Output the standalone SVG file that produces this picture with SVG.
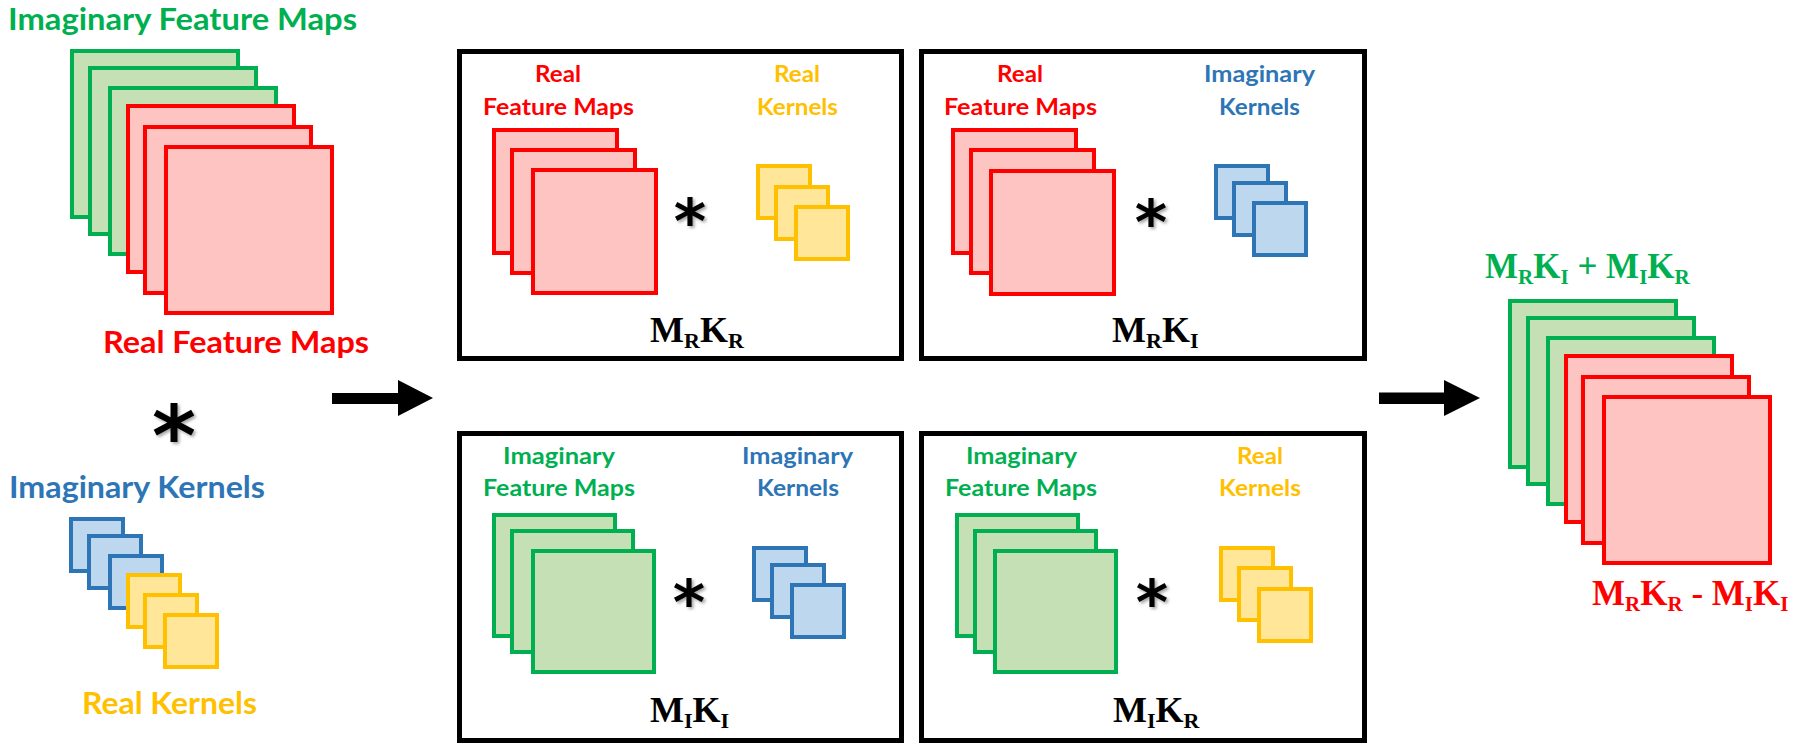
<svg xmlns="http://www.w3.org/2000/svg" width="1800" height="745" viewBox="0 0 1800 745">
<style>
.g{fill:#C5E0B4;stroke:#00B050;stroke-width:4}
.r{fill:#FDC4C2;stroke:#FF0000;stroke-width:4}
.b{fill:#BDD7EE;stroke:#2E75B6;stroke-width:4}
.y{fill:#FFE699;stroke:#FFC000;stroke-width:4}
.box{fill:#FFFFFF;stroke:#000000;stroke-width:5}
.lbl{font-family:Lato,"Open Sans","Liberation Sans",sans-serif;font-weight:700}
.big{font-size:31px}
.sm{font-size:22px}
.tg{fill:#00B050}.tr{fill:#FF0000}.tb{fill:#2E75B6}.ty{fill:#FFC000}
.math{font-family:"Liberation Serif","Times New Roman",serif;font-weight:700;font-size:36px;fill:#000}
.res{font-family:"Liberation Serif","Times New Roman",serif;font-weight:700;font-size:35px}
.ast{font-family:"DejaVu Sans",sans-serif;font-weight:700;fill:#000;text-anchor:middle;filter:url(#sh)}
.arrow{fill:#000}
</style>
<defs>
<filter id="sh" x="-30%" y="-30%" width="160%" height="160%">
<feDropShadow dx="2" dy="2" stdDeviation="1.5" flood-color="#000" flood-opacity="0.35"/>
</filter>
</defs>
<rect width="1800" height="745" fill="#FFFFFF"/>

<g id="input-feature-maps">
<rect class="g" x="72" y="51" width="166" height="166"/>
<rect class="g" x="90" y="68" width="166" height="166"/>
<rect class="g" x="110" y="88" width="166" height="166"/>
<rect class="r" x="128" y="106" width="166" height="166"/>
<rect class="r" x="145" y="127" width="166" height="166"/>
<rect class="r" x="166" y="147" width="166" height="166"/>
<text class="lbl big tg" x="8" y="30" textLength="349" lengthAdjust="spacingAndGlyphs">Imaginary Feature Maps</text>
<text class="lbl big tr" x="103" y="353" textLength="266" lengthAdjust="spacingAndGlyphs">Real Feature Maps</text>
</g>

<g id="input-conv-op">
<text class="ast" x="174" y="465" font-size="84">*</text>
</g>

<g id="input-kernels">
<rect class="b" x="71" y="519" width="52" height="52"/>
<rect class="b" x="89" y="536" width="52" height="52"/>
<rect class="b" x="110" y="556" width="52" height="52"/>
<rect class="y" x="128" y="575" width="52" height="52"/>
<rect class="y" x="145" y="595" width="52" height="52"/>
<rect class="y" x="165" y="615" width="52" height="52"/>
<text class="lbl big tb" x="9" y="498" textLength="256" lengthAdjust="spacingAndGlyphs">Imaginary Kernels</text>
<text class="lbl big ty" x="82" y="714" textLength="175" lengthAdjust="spacingAndGlyphs">Real Kernels</text>
</g>

<g id="box-mrkr">
<rect class="box" x="459.5" y="51.5" width="442" height="307"/>
<text class="lbl sm tr" x="535" y="82" textLength="46" lengthAdjust="spacingAndGlyphs">Real</text>
<text class="lbl sm tr" x="483" y="115" textLength="151" lengthAdjust="spacingAndGlyphs">Feature Maps</text>
<rect class="r" x="494" y="130" width="123" height="123"/>
<rect class="r" x="512" y="150" width="123" height="123"/>
<rect class="r" x="533" y="170" width="123" height="123"/>
<text class="ast" x="690" y="243" font-size="62">*</text>
<text class="lbl sm ty" x="774" y="82" textLength="46" lengthAdjust="spacingAndGlyphs">Real</text>
<text class="lbl sm ty" x="757" y="115" textLength="81" lengthAdjust="spacingAndGlyphs">Kernels</text>
<rect class="y" x="758" y="166" width="52" height="52"/>
<rect class="y" x="776" y="187" width="52" height="52"/>
<rect class="y" x="796" y="207" width="52" height="52"/>
<text class="math" x="650" y="342">M<tspan font-size="22" dy="6">R</tspan><tspan dy="-6">K</tspan><tspan font-size="22" dy="6">R</tspan></text>
</g>

<g id="box-mrki">
<rect class="box" x="921.5" y="51.5" width="443" height="307"/>
<text class="lbl sm tr" x="997" y="82" textLength="46" lengthAdjust="spacingAndGlyphs">Real</text>
<text class="lbl sm tr" x="944" y="115" textLength="153" lengthAdjust="spacingAndGlyphs">Feature Maps</text>
<rect class="r" x="953" y="130" width="123" height="123"/>
<rect class="r" x="971" y="150" width="123" height="123"/>
<rect class="r" x="991" y="171" width="123" height="123"/>
<text class="ast" x="1151" y="244" font-size="62">*</text>
<text class="lbl sm tb" x="1204" y="82" textLength="111" lengthAdjust="spacingAndGlyphs">Imaginary</text>
<text class="lbl sm tb" x="1219" y="115" textLength="81" lengthAdjust="spacingAndGlyphs">Kernels</text>
<rect class="b" x="1216" y="166" width="52" height="52"/>
<rect class="b" x="1234" y="183" width="52" height="52"/>
<rect class="b" x="1254" y="203" width="52" height="52"/>
<text class="math" x="1112" y="342">M<tspan font-size="22" dy="6">R</tspan><tspan dy="-6">K</tspan><tspan font-size="22" dy="6">I</tspan></text>
</g>

<g id="box-miki">
<rect class="box" x="459.5" y="433.5" width="442" height="307"/>
<text class="lbl sm tg" x="503" y="464" textLength="112" lengthAdjust="spacingAndGlyphs">Imaginary</text>
<text class="lbl sm tg" x="483" y="496" textLength="152" lengthAdjust="spacingAndGlyphs">Feature Maps</text>
<rect class="g" x="494" y="515" width="121" height="121"/>
<rect class="g" x="512" y="531" width="121" height="121"/>
<rect class="g" x="533" y="551" width="121" height="121"/>
<text class="ast" x="689" y="624" font-size="62">*</text>
<text class="lbl sm tb" x="742" y="464" textLength="111" lengthAdjust="spacingAndGlyphs">Imaginary</text>
<text class="lbl sm tb" x="757" y="496" textLength="82" lengthAdjust="spacingAndGlyphs">Kernels</text>
<rect class="b" x="754" y="548" width="52" height="52"/>
<rect class="b" x="772" y="565" width="52" height="52"/>
<rect class="b" x="792" y="585" width="52" height="52"/>
<text class="math" x="650" y="722">M<tspan font-size="22" dy="6">I</tspan><tspan dy="-6">K</tspan><tspan font-size="22" dy="6">I</tspan></text>
</g>

<g id="box-mikr">
<rect class="box" x="921.5" y="433.5" width="443" height="307"/>
<text class="lbl sm tg" x="966" y="464" textLength="111" lengthAdjust="spacingAndGlyphs">Imaginary</text>
<text class="lbl sm tg" x="945" y="496" textLength="152" lengthAdjust="spacingAndGlyphs">Feature Maps</text>
<rect class="g" x="957" y="515" width="121" height="121"/>
<rect class="g" x="975" y="531" width="121" height="121"/>
<rect class="g" x="995" y="551" width="121" height="121"/>
<text class="ast" x="1152" y="624" font-size="62">*</text>
<text class="lbl sm ty" x="1237" y="464" textLength="46" lengthAdjust="spacingAndGlyphs">Real</text>
<text class="lbl sm ty" x="1219" y="496" textLength="82" lengthAdjust="spacingAndGlyphs">Kernels</text>
<rect class="y" x="1221" y="548" width="52" height="52"/>
<rect class="y" x="1239" y="568" width="52" height="52"/>
<rect class="y" x="1259" y="589" width="52" height="52"/>
<text class="math" x="1113" y="722">M<tspan font-size="22" dy="6">I</tspan><tspan dy="-6">K</tspan><tspan font-size="22" dy="6">R</tspan></text>
</g>

<g id="output-feature-maps">
<rect class="g" x="1510" y="301" width="166" height="166"/>
<rect class="g" x="1528" y="318" width="166" height="166"/>
<rect class="g" x="1548" y="338" width="166" height="166"/>
<rect class="r" x="1566" y="356" width="166" height="166"/>
<rect class="r" x="1583" y="377" width="166" height="166"/>
<rect class="r" x="1604" y="397" width="166" height="166"/>
<text class="res tg" x="1485" y="278">M<tspan font-size="21" dy="6">R</tspan><tspan dy="-6">K</tspan><tspan font-size="21" dy="6">I</tspan><tspan dy="-6"> + M</tspan><tspan font-size="21" dy="6">I</tspan><tspan dy="-6">K</tspan><tspan font-size="21" dy="6">R</tspan></text>
<text class="res tr" x="1592" y="605">M<tspan font-size="21" dy="6">R</tspan><tspan dy="-6">K</tspan><tspan font-size="21" dy="6">R</tspan><tspan dy="-6"> - M</tspan><tspan font-size="21" dy="6">I</tspan><tspan dy="-6">K</tspan><tspan font-size="21" dy="6">I</tspan></text>
</g>

<g id="connectors">
<polygon class="arrow" points="332,393 398,393 398,380 433,398 398,416 398,404 332,404"/>
<polygon class="arrow" points="1379,392.5 1444,392.5 1444,380 1480,398 1444,416 1444,404 1379,404"/>
</g>
</svg>
